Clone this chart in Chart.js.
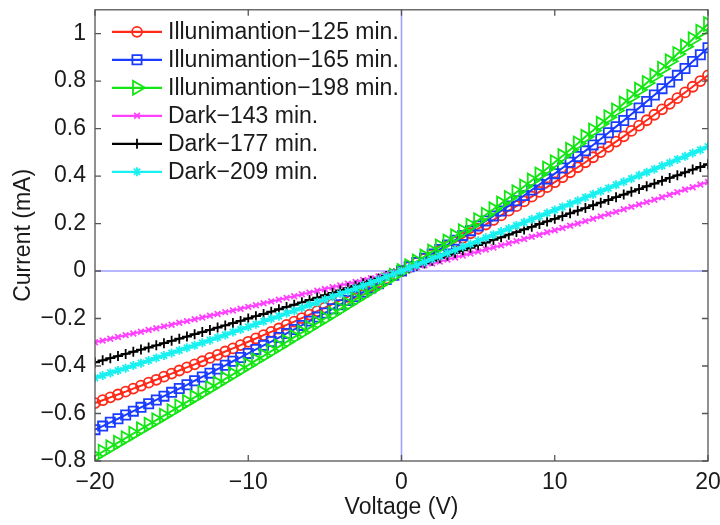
<!DOCTYPE html>
<html>
<head>
<meta charset="utf-8">
<script src="https://cdn.jsdelivr.net/npm/chart.js@4.4.1/dist/chart.umd.min.js"></script>
<style>
html,body{margin:0;padding:0;background:#fff;}
#wrap{width:720px;height:525px;}
</style>
</head>
<body>
<div id="wrap"><canvas id="c" width="720" height="525"></canvas></div>
<script>
const voltage = [-20,-19.5,-19,-18.5,-18,-17.5,-17,-16.5,-16,-15.5,-15,-14.5,-14,-13.5,-13,-12.5,-12,-11.5,-11,-10.5,-10,-9.5,-9,-8.5,-8,-7.5,-7,-6.5,-6,-5.5,-5,-4.5,-4,-3.5,-3,-2.5,-2,-1.5,-1,-0.5,0,0.5,1,1.5,2,2.5,3,3.5,4,4.5,5,5.5,6,6.5,7,7.5,8,8.5,9,9.5,10,10.5,11,11.5,12,12.5,13,13.5,14,14.5,15,15.5,16,16.5,17,17.5,18,18.5,19,19.5,20];

const illum125 = [-0.556,-0.544,-0.532,-0.520,-0.508,-0.495,-0.483,-0.470,-0.458,-0.445,-0.432,-0.419,-0.406,-0.393,-0.380,-0.366,-0.353,-0.339,-0.326,-0.312,-0.298,-0.284,-0.270,-0.256,-0.242,-0.227,-0.213,-0.198,-0.184,-0.169,-0.154,-0.139,-0.124,-0.109,-0.094,-0.078,-0.063,-0.047,-0.032,-0.016,0,0.017,0.034,0.051,0.069,0.086,0.104,0.122,0.140,0.159,0.178,0.196,0.215,0.234,0.254,0.273,0.293,0.313,0.333,0.353,0.374,0.395,0.416,0.437,0.458,0.479,0.501,0.523,0.545,0.567,0.590,0.612,0.635,0.658,0.681,0.704,0.728,0.752,0.776,0.800,0.824];

const illum165 = [-0.668,-0.653,-0.637,-0.622,-0.606,-0.590,-0.574,-0.559,-0.543,-0.527,-0.511,-0.495,-0.479,-0.462,-0.446,-0.430,-0.413,-0.397,-0.380,-0.364,-0.347,-0.330,-0.313,-0.297,-0.280,-0.263,-0.246,-0.229,-0.211,-0.194,-0.177,-0.159,-0.142,-0.124,-0.107,-0.089,-0.071,-0.054,-0.036,-0.018,0,0.018,0.036,0.054,0.072,0.091,0.110,0.130,0.150,0.170,0.190,0.211,0.232,0.253,0.274,0.296,0.318,0.341,0.364,0.387,0.410,0.434,0.458,0.482,0.506,0.531,0.556,0.582,0.608,0.634,0.660,0.687,0.714,0.741,0.768,0.796,0.824,0.853,0.882,0.911,0.940];

const illum198 = [-0.780,-0.761,-0.742,-0.723,-0.704,-0.685,-0.666,-0.647,-0.628,-0.609,-0.590,-0.570,-0.551,-0.532,-0.512,-0.493,-0.474,-0.454,-0.435,-0.415,-0.396,-0.376,-0.357,-0.337,-0.318,-0.298,-0.278,-0.259,-0.239,-0.219,-0.200,-0.180,-0.160,-0.140,-0.120,-0.100,-0.080,-0.060,-0.040,-0.020,0,0.020,0.040,0.061,0.082,0.103,0.124,0.146,0.168,0.191,0.214,0.237,0.260,0.284,0.308,0.332,0.356,0.381,0.407,0.432,0.458,0.484,0.511,0.537,0.565,0.592,0.620,0.648,0.676,0.705,0.734,0.763,0.792,0.822,0.852,0.883,0.914,0.945,0.976,1.008,1.040];

const dark143 = [-0.300,-0.293,-0.285,-0.278,-0.270,-0.263,-0.256,-0.248,-0.241,-0.233,-0.226,-0.218,-0.211,-0.203,-0.196,-0.188,-0.181,-0.173,-0.166,-0.159,-0.151,-0.144,-0.136,-0.128,-0.121,-0.113,-0.106,-0.098,-0.091,-0.083,-0.076,-0.068,-0.061,-0.053,-0.046,-0.038,-0.030,-0.023,-0.015,-0.008,0,0.008,0.016,0.024,0.032,0.040,0.048,0.057,0.065,0.074,0.082,0.091,0.099,0.108,0.117,0.126,0.135,0.144,0.153,0.163,0.172,0.181,0.191,0.200,0.210,0.220,0.230,0.240,0.249,0.260,0.270,0.280,0.290,0.300,0.311,0.321,0.332,0.343,0.353,0.364,0.375];

const dark177 = [-0.385,-0.376,-0.367,-0.358,-0.349,-0.340,-0.331,-0.322,-0.313,-0.304,-0.294,-0.285,-0.276,-0.266,-0.257,-0.248,-0.238,-0.229,-0.219,-0.210,-0.200,-0.190,-0.181,-0.171,-0.161,-0.151,-0.142,-0.132,-0.122,-0.112,-0.102,-0.092,-0.082,-0.072,-0.062,-0.051,-0.041,-0.031,-0.021,-0.010,0,0.011,0.022,0.032,0.043,0.054,0.065,0.076,0.087,0.098,0.109,0.120,0.131,0.142,0.153,0.164,0.175,0.186,0.198,0.209,0.220,0.231,0.243,0.254,0.265,0.277,0.288,0.299,0.311,0.322,0.334,0.345,0.357,0.368,0.380,0.392,0.403,0.415,0.427,0.438,0.450];

const dark209 = [-0.450,-0.440,-0.429,-0.419,-0.409,-0.398,-0.388,-0.377,-0.366,-0.356,-0.345,-0.334,-0.323,-0.313,-0.302,-0.291,-0.280,-0.269,-0.257,-0.246,-0.235,-0.224,-0.212,-0.201,-0.190,-0.178,-0.167,-0.155,-0.143,-0.132,-0.120,-0.108,-0.096,-0.085,-0.073,-0.061,-0.049,-0.037,-0.024,-0.012,0,0.013,0.025,0.038,0.051,0.063,0.076,0.089,0.102,0.114,0.127,0.140,0.153,0.166,0.179,0.192,0.205,0.218,0.231,0.244,0.257,0.270,0.283,0.296,0.310,0.323,0.336,0.349,0.363,0.376,0.389,0.403,0.416,0.429,0.443,0.456,0.470,0.483,0.497,0.510,0.524];

const seriesNames = ['Illunimantion\u2212125 min.','Illunimantion\u2212165 min.','Illunimantion\u2212198 min.','Dark\u2212143 min.','Dark\u2212177 min.','Dark\u2212209 min.'];
const xTickVals = [-20,-10,0,10,20];
const yTickVals = [-0.8,-0.6,-0.4,-0.2,0,0.2,0.4,0.6,0.8,1];

const seriesData = [illum125, illum165, illum198, dark143, dark177, dark209];
const styles = [
  {color:'#ff2a1a', shape:'circle', r:5, rot:0},
  {color:'#1a3cff', shape:'rect', r:6.5, rot:0},
  {color:'#14e614', shape:'triangle', r:8, rot:90},
  {color:'#ff40ff', shape:'crossRot', r:4, rot:0},
  {color:'#000000', shape:'cross', r:5, rot:0},
  {color:'#19f0f0', shape:'star', r:4.5, rot:0}
];

const FONT = '"Liberation Sans", Arial, Helvetica, sans-serif';
const FS = 23;
const fmt = v => String(Number(v.toFixed(1))).replace('-', '\u2212');

const datasets = seriesData.map((arr, i) => ({
  label: seriesNames[i],
  data: arr.map((y, k) => ({x: voltage[k], y: y})),
  borderColor: styles[i].color,
  backgroundColor: styles[i].color,
  borderWidth: 2,
  pointStyle: styles[i].shape,
  pointRadius: styles[i].r,
  pointRotation: styles[i].rot,
  pointBorderColor: styles[i].color,
  pointBackgroundColor: 'rgba(0,0,0,0)',
  pointBorderWidth: 1.8,
  tension: 0,
  order: 6 - i
}));

function drawMarker(ctx, st, x, y) {
  ctx.save();
  ctx.strokeStyle = st.color;
  ctx.lineWidth = 1.8;
  ctx.beginPath();
  const r = st.r;
  if (st.shape === 'circle') {
    ctx.arc(x, y, r, 0, Math.PI * 2);
  } else if (st.shape === 'rect') {
    const s = r * Math.SQRT1_2;
    ctx.rect(x - s, y - s, 2 * s, 2 * s);
  } else if (st.shape === 'triangle') {
    ctx.moveTo(x + r, y);
    ctx.lineTo(x - r / 2, y - r * 0.866);
    ctx.lineTo(x - r / 2, y + r * 0.866);
    ctx.closePath();
  } else if (st.shape === 'crossRot') {
    const s = r * Math.SQRT1_2;
    ctx.moveTo(x - s, y - s); ctx.lineTo(x + s, y + s);
    ctx.moveTo(x - s, y + s); ctx.lineTo(x + s, y - s);
  } else if (st.shape === 'cross') {
    ctx.moveTo(x, y - r); ctx.lineTo(x, y + r);
    ctx.moveTo(x - r, y); ctx.lineTo(x + r, y);
  } else if (st.shape === 'star') {
    const s = r * Math.SQRT1_2;
    ctx.moveTo(x, y - r); ctx.lineTo(x, y + r);
    ctx.moveTo(x - r, y); ctx.lineTo(x + r, y);
    ctx.moveTo(x - s, y - s); ctx.lineTo(x + s, y + s);
    ctx.moveTo(x - s, y + s); ctx.lineTo(x + s, y - s);
  }
  ctx.stroke();
  ctx.restore();
}

const framePlugin = {
  id: 'frame',
  beforeDatasetsDraw(chart) {
    const {ctx, chartArea: a, scales: {x, y}} = chart;
    ctx.save();
    ctx.strokeStyle = 'rgba(160,160,255,1)';
    ctx.lineWidth = 1.6;
    const x0 = x.getPixelForValue(0), y0 = y.getPixelForValue(0);
    ctx.beginPath();
    ctx.moveTo(a.left, y0); ctx.lineTo(a.right, y0);
    ctx.moveTo(x0, a.top); ctx.lineTo(x0, a.bottom);
    ctx.stroke();
    ctx.restore();
  },
  afterDatasetsDraw(chart) {
    const {ctx, chartArea: a, scales: {x, y}} = chart;
    ctx.save();
    ctx.strokeStyle = '#555555';
    ctx.lineWidth = 1.3;
    ctx.strokeRect(a.left, a.top, a.right - a.left, a.bottom - a.top);
    ctx.beginPath();
    const tl = 6;
    yTickVals.forEach(v => {
      const py = y.getPixelForValue(v);
      ctx.moveTo(a.left, py); ctx.lineTo(a.left + tl, py);
      ctx.moveTo(a.right, py); ctx.lineTo(a.right - tl, py);
    });
    xTickVals.forEach(v => {
      const px = x.getPixelForValue(v);
      ctx.moveTo(px, a.bottom); ctx.lineTo(px, a.bottom - tl);
      ctx.moveTo(px, a.top); ctx.lineTo(px, a.top + tl);
    });
    ctx.stroke();
    // legend
    const lx0 = a.left + 17, lx1 = a.left + 67, tx = a.left + 73;
    const rowY0 = a.top + 22, rowH = 28;
    ctx.font = FS + 'px ' + FONT;
    ctx.textBaseline = 'middle';
    ctx.textAlign = 'left';
    seriesNames.forEach((name, i) => {
      const ry = rowY0 + i * rowH;
      const st = styles[i];
      ctx.strokeStyle = st.color;
      ctx.lineWidth = 2.2;
      ctx.beginPath();
      ctx.moveTo(lx0, ry); ctx.lineTo(lx1, ry);
      ctx.stroke();
      drawMarker(ctx, st, (lx0 + lx1) / 2, ry);
      ctx.fillStyle = '#1a1a1a';
      ctx.fillText(name, tx, ry + 1);
    });
    ctx.restore();
  }
};

new Chart(document.getElementById('c'), {
  type: 'line',
  data: {datasets},
  options: {
    responsive: false,
    animation: false,
    devicePixelRatio: 1,
    layout: {padding: {left: 0, right: 12, top: 8, bottom: 0}},
    plugins: {legend: {display: false}, tooltip: {enabled: false}},
    scales: {
      x: {
        type: 'linear',
        min: -20, max: 20,
        grid: {display: false},
        border: {display: false},
        afterBuildTicks: s => { s.ticks = xTickVals.map(v => ({value: v})); },
        afterFit: s => { s.height = 64; s.paddingLeft = 0; s.paddingRight = 0; },
        ticks: {
          color: '#1a1a1a', padding: 0, maxRotation: 0,
          font: {family: FONT, size: FS},
          callback: v => fmt(v)
        },
        title: {display: true, text: 'Voltage (V)', color: '#1a1a1a', font: {family: FONT, size: FS}, padding: {top: 0, bottom: 4}}
      },
      y: {
        type: 'linear',
        min: -0.8, max: 1.1,
        grid: {display: false},
        border: {display: false},
        afterBuildTicks: s => { s.ticks = yTickVals.map(v => ({value: v})); },
        afterFit: s => { s.width = 95; s.paddingTop = 0; s.paddingBottom = 0; },
        ticks: {
          color: '#1a1a1a', padding: 1,
          font: {family: FONT, size: FS},
          callback: v => fmt(v)
        },
        title: {display: true, text: 'Current (mA)', color: '#1a1a1a', font: {family: FONT, size: FS}, padding: {top: 10, bottom: 0}}
      }
    }
  },
  plugins: [framePlugin]
});
</script>
</body>
</html>
